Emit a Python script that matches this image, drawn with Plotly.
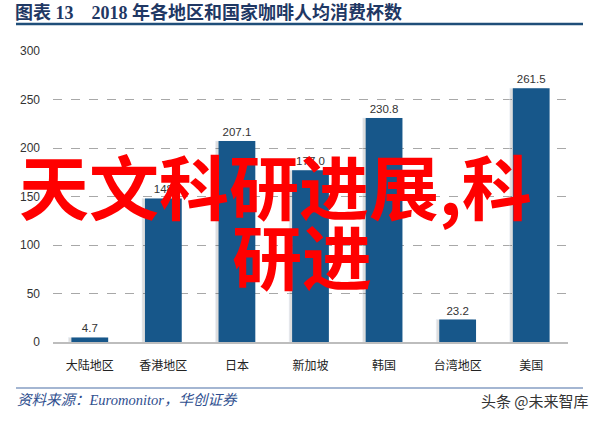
import plotly.graph_objects as go

categories = ["大陆地区", "香港地区", "日本", "新加坡", "韩国", "台湾地区", "美国"]
values = [4.7, 148, 207.1, 177.0, 230.8, 23.2, 261.5]
value_labels = ["4.7", "148", "207.1", "177.0", "230.8", "23.2", "261.5"]
y_ticks = [0, 50, 100, 150, 200, 250, 300]

title_text = "图表 13    2018 年各地区和国家咖啡人均消费杯数"
source_text = "资料来源：Euromonitor，华创证券"
watermark_text = "头条 @未来智库"
overlay_line1 = "天文科研进展,科"
overlay_line2 = "研进"

W_FIG, H_FIG = 603, 423
L, R, T, B = 53, 568, 51, 342  # plot area in window pixels


def px(x):
    return (x - L) / (R - L)


def py(y):
    return (B - y) / (B - T)


bar_color = "#17578A"

fig = go.Figure()
# soft shadow behind bars
fig.add_trace(go.Bar(
    x=categories, y=values, marker_color="rgba(0,0,0,0.13)",
    width=0.5, offset=-0.29, hoverinfo="skip", showlegend=False,
))
fig.add_trace(go.Bar(
    x=categories, y=values, marker_color=bar_color,
    marker_line_width=0, width=0.5, offset=-0.25,
    text=value_labels, textposition="outside", cliponaxis=False,
    textfont=dict(family="Liberation Sans, Arial", size=11.5, color="#333333"),
    showlegend=False,
))

fig.update_layout(
    width=W_FIG, height=H_FIG,
    margin=dict(l=L, r=W_FIG - R, t=T, b=H_FIG - B, pad=0, autoexpand=False),
    paper_bgcolor="white", plot_bgcolor="white",
    barmode="overlay",
    font=dict(family="Liberation Sans, Noto Sans CJK SC", color="#333333"),
    xaxis=dict(
        showgrid=False, showline=True, linecolor="#BDBDBD", linewidth=2,
        tickfont=dict(family="Noto Sans CJK SC", size=12, color="#222222"),
        ticks="", ticklabelstandoff=12, fixedrange=True,
    ),
    yaxis=dict(
        range=[0, 300], tickvals=y_ticks, showgrid=True,
        gridcolor="#A8A8A8", griddash="dash", gridwidth=1,
        zeroline=False, showline=False, ticks="",
        ticklabelstandoff=12,
        tickfont=dict(family="Liberation Sans, Arial", size=12, color="#333333"),
        fixedrange=True,
    ),
    shapes=[
        dict(type="line", xref="paper", yref="paper",
             x0=px(16), x1=px(583), y0=py(24), y1=py(24),
             line=dict(color="#1F4E79", width=2.5)),
        dict(type="line", xref="paper", yref="paper",
             x0=px(16), x1=px(583), y0=py(388), y1=py(388),
             line=dict(color="#4A6FA5", width=1.2)),
    ],
    annotations=[
        dict(text=title_text, xref="paper", yref="paper",
             x=px(13), y=py(12), xanchor="left", yanchor="middle",
             showarrow=False,
             font=dict(family="Liberation Serif, Noto Sans CJK SC", size=18,
                       color="#1F3864", weight="bold")),
        dict(text="<i>" + source_text + "</i>", xref="paper", yref="paper",
             x=px(15), y=py(400), xanchor="left", yanchor="middle",
             showarrow=False,
             font=dict(family="Liberation Serif, Noto Sans CJK SC", size=14.5, color="#2F4F8F")),
        dict(text=watermark_text, xref="paper", yref="paper",
             x=px(591), y=py(400), xanchor="right", yanchor="middle",
             showarrow=False,
             font=dict(family="Noto Sans CJK SC", size=15, color="#333333")),
        dict(text=overlay_line1, xref="paper", yref="paper",
             x=px(17), y=py(184), xanchor="left", yanchor="middle",
             showarrow=False,
             font=dict(family="Noto Sans CJK SC", size=70, color="#FF0000", weight="bold")),
        dict(text=overlay_line2, xref="paper", yref="paper",
             x=px(230), y=py(254), xanchor="left", yanchor="middle",
             showarrow=False,
             font=dict(family="Noto Sans CJK SC", size=70, color="#FF0000", weight="bold")),
    ],
)

fig.write_html(
    "out.html",
    config={"displayModeBar": False},
    post_script="document.body.style.margin='0';document.body.style.padding='0';",
)
